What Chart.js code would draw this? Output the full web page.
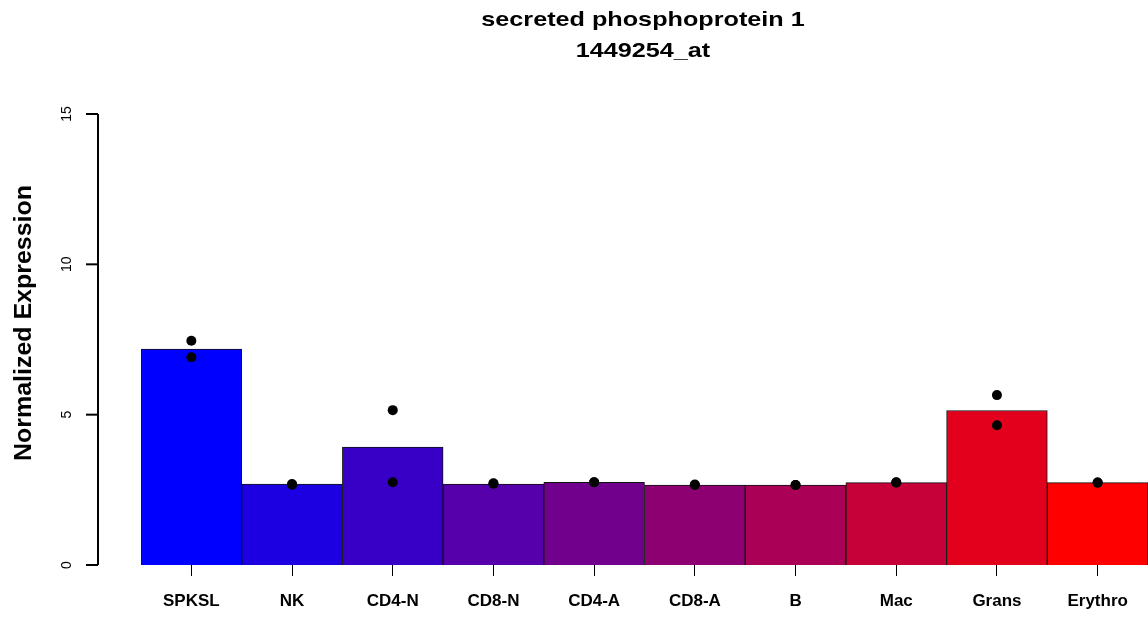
<html>
<head>
<script src="https://cdn.jsdelivr.net/npm/chart.js"></script>
<style>
body { margin: 0; background: #ffffff; overflow: hidden; }
#box { width: 1148px; height: 617px; position: relative; }
</style>
</head>
<body>
<div id="box"><canvas id="barChart"></canvas></div>
<script>
// cell types along the x axis
var cells = ["SPKSL", "NK", "CD4-N", "CD8-N", "CD4-A", "CD8-A", "B", "Mac", "Grans", "Erythro"];
// mean expression (bar heights)
var means = [7.18, 2.69, 3.92, 2.69, 2.75, 2.66, 2.66, 2.74, 5.14, 2.74];
// the two replicate values (dots)
var rep1 = [7.46, 2.67, 5.15, 2.72, 2.75, 2.68, 2.66, 2.75, 5.65, 2.74];
var rep2 = [6.91, 2.69, 2.75, 2.70, 2.75, 2.66, 2.66, 2.74, 4.65, 2.74];
var yTicks = [0, 5, 10, 15];
var barColors = ["#0000FF", "#1C00E2", "#3800C6", "#5500AA", "#71008D", "#8D0071", "#AA0055", "#C60038", "#E2001C", "#FF0000"];

var titleLines = ["secreted phosphoprotein 1", "1449254_at"];
var yTitle = "Normalized Expression";
var fontFam = "'Liberation Sans', Arial, sans-serif";

// R style detached y axis + titles
var rDecor = {
  id: 'rDecor',
  afterDraw: function(chart) {
    var ctx = chart.ctx;
    var ys = chart.scales.y;
    var axX = chart.chartArea.left - 43;
    ctx.save();
    ctx.strokeStyle = "#000";
    ctx.lineWidth = 2;
    ctx.beginPath();
    ctx.moveTo(axX, ys.getPixelForValue(yTicks[0]));
    ctx.lineTo(axX, ys.getPixelForValue(yTicks[yTicks.length - 1]));
    ctx.stroke();
    ctx.fillStyle = "#000";
    ctx.font = "14px " + fontFam;
    ctx.textAlign = "center";
    ctx.textBaseline = "middle";
    for (var i = 0; i < yTicks.length; i++) {
      var py = ys.getPixelForValue(yTicks[i]);
      ctx.beginPath();
      ctx.moveTo(axX, py);
      ctx.lineTo(axX - 12, py);
      ctx.stroke();
      ctx.save();
      ctx.translate(axX - 31, py);
      ctx.rotate(-Math.PI / 2);
      ctx.fillText(String(yTicks[i]), 0, 0);
      ctx.restore();
    }
    // axis title
    ctx.save();
    ctx.font = "bold 24px " + fontFam;
    ctx.translate(24, 323);
    ctx.rotate(-Math.PI / 2);
    ctx.scale(1.04, 1);
    ctx.fillText(yTitle, 0, 0);
    ctx.restore();
    // main title, a bit wider like the R bitmap font
    ctx.save();
    ctx.font = "bold 21px " + fontFam;
    ctx.textBaseline = "alphabetic";
    ctx.translate(643, 0);
    ctx.scale(1.2, 1);
    ctx.fillText(titleLines[0], 0, 26);
    ctx.fillText(titleLines[1], 0, 57);
    ctx.restore();
    ctx.restore();
  }
};

var ctxB = document.getElementById("barChart").getContext('2d');
var myChart = new Chart(ctxB, {
  type: 'bar',
  data: {
    labels: cells,
    datasets: [{
      type: 'line',
      data: rep1,
      showLine: false,
      pointRadius: 5,
      pointBackgroundColor: "#000",
      pointBorderWidth: 0,
      order: 0
    }, {
      type: 'line',
      data: rep2,
      showLine: false,
      pointRadius: 5,
      pointBackgroundColor: "#000",
      pointBorderWidth: 0,
      order: 0
    }, {
      data: means,
      backgroundColor: barColors,
      borderColor: "#111",
      borderWidth: 1,
      barPercentage: 1,
      categoryPercentage: 1,
      order: 1
    }]
  },
  options: {
    responsive: true,
    maintainAspectRatio: false,
    animation: false,
    layout: { autoPadding: false, padding: { left: 141, top: 114, right: 0, bottom: 0 } },
    plugins: { legend: { display: false }, tooltip: { enabled: false } },
    scales: {
      y: { display: false, min: 0, max: 15 },
      x: {
        offset: true,
        grid: { offset: false, drawOnChartArea: false, tickLength: 11, color: "#000", lineWidth: 1 },
        border: { display: false },
        ticks: { color: "#000", font: { family: fontFam, size: 17, weight: 'bold' }, padding: 15, maxRotation: 0, autoSkip: false },
        afterFit: function(s) { s.height = 52; }
      }
    }
  },
  plugins: [rDecor]
});
</script>
</body>
</html>
